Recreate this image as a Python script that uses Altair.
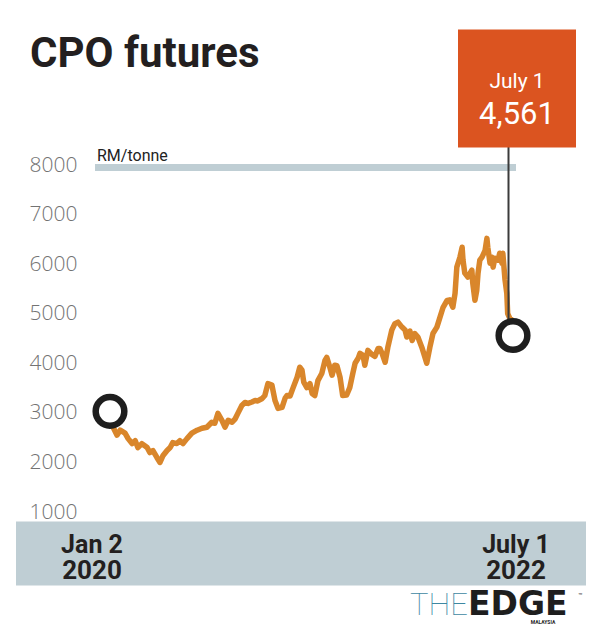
import altair as alt
import pandas as pd

# ---------------- data ----------------
start_date = "2020-01-02"
end_date = "2022-07-01"

day_offsets = [0, 7, 16, 23, 34, 41, 50, 57, 63, 72, 84, 90, 97, 106, 113, 120, 129, 136,
               142, 151, 158, 165, 174, 185, 197, 208, 219, 230, 237, 244, 253, 260, 267,
               276, 283, 289, 298, 305, 312, 321, 328, 334, 344, 350, 357, 366, 373, 380,
               389, 396, 400, 407, 414, 423, 429, 434, 438, 445, 452, 457, 463, 470, 479,
               486, 490, 497, 502, 508, 513, 520, 526, 535, 542, 549, 554, 561, 565, 572,
               576, 583, 592, 599, 606, 610, 615, 622, 628, 637, 644, 651, 660, 667, 671,
               678, 683, 689, 696, 705, 712, 716, 723, 730, 739, 746, 753, 762, 768, 775,
               780, 784, 791, 796, 798, 802, 809, 818, 820, 825, 829, 832, 836, 841, 848,
               852, 854, 859, 863, 866, 870, 877, 881, 886, 888, 893, 897, 899, 904, 908,
               911]
prices = [3030, 2710, 2550, 2650, 2590, 2480, 2380, 2440, 2300, 2380, 2300, 2200, 2240,
          2100, 2000, 2140, 2240, 2300, 2400, 2380, 2440, 2380, 2480, 2590, 2650, 2690,
          2710, 2810, 2790, 2990, 2850, 2710, 2850, 2810, 2880, 2990, 3150, 3210, 3190,
          3220, 3250, 3240, 3290, 3350, 3590, 3560, 3250, 3090, 3110, 3300, 3350, 3340,
          3510, 3720, 3920, 3860, 3620, 3510, 3590, 3390, 3350, 3650, 3800, 4060, 4120,
          3920, 3760, 3960, 3950, 3720, 3350, 3360, 3510, 3800, 4000, 4100, 4200, 4160,
          3960, 4260, 4180, 4140, 4300, 4300, 4200, 4020, 4320, 4670, 4800, 4830, 4730,
          4670, 4530, 4650, 4460, 4600, 4530, 4320, 4120, 4000, 4320, 4600, 4730, 4930,
          5130, 5270, 5280, 5130, 5410, 5940, 6140, 6340, 6080, 5820, 5740, 5880, 5620,
          5270, 5470, 5820, 6080, 6140, 6280, 6520, 6340, 6020, 6140, 5940, 6120, 6080,
          6220, 6020, 6220, 5680, 5410, 5000, 4900, 4880, 4561]

marker_dates = [start_date, end_date]
marker_values = [3030, 4561]

y_ticks = [1000, 2000, 3000, 4000, 5000, 6000, 7000, 8000]

title_text = "CPO futures"
unit_text = "RM/tonne"
callout_date = "July 1"
callout_value = "4,561"
start_label = ["Jan 2", "2020"]
end_label = ["July 1", "2022"]

# ---------------- frames ----------------
dates = pd.to_datetime(start_date) + pd.to_timedelta(day_offsets, unit="D")
df = pd.DataFrame({"date": dates.strftime("%Y-%m-%d"), "price": prices})
mk = pd.DataFrame({"date": marker_dates, "price": marker_values})
dummy = pd.DataFrame({"k": [0]})

ORANGE_LINE = "#D9862B"
ORANGE_BOX = "#DB5420"
BAND = "#BFCED4"

xscale = alt.Scale(domain=[start_date, end_date])
yscale = alt.Scale(domain=[1000, 8000], nice=False, zero=False)

X = alt.X("date:T", scale=xscale, axis=None)
Y = alt.Y("price:Q", scale=yscale,
          axis=alt.Axis(values=y_ticks, format="d", title=None, domain=False,
                        ticks=False, grid=False, labelPadding=33, labelFontSize=21,
                        labelColor="#737373", labelFont="Open Sans",
                        labelFontWeight=300))


def txt(s, x, y, size, weight="normal", color="#231f20", align="left",
        font="Roboto", **kw):
    return alt.Chart(dummy).mark_text(
        text=s, fontSize=size, fontWeight=weight, color=color, align=align,
        baseline="alphabetic", font=font, **kw
    ).encode(x=alt.value(x), y=alt.value(y))


band = alt.Chart(dummy).mark_rect(color=BAND).encode(
    x=alt.value(-94), x2=alt.value(476), y=alt.value(356.5), y2=alt.value(420.5))

top_rule = alt.Chart(dummy).mark_rule(color=BAND, strokeWidth=7).encode(
    x=alt.value(-15), x2=alt.value(406), y=alt.value(2.5))

line = alt.Chart(df).mark_line(color=ORANGE_LINE, strokeWidth=5.5,
                               strokeJoin="round", strokeCap="round").encode(x=X, y=Y)

connector = alt.Chart(dummy).mark_rule(color="#3b3b3b", strokeWidth=2).encode(
    x=alt.value(398.5), y=alt.value(-18), y2=alt.value(155))

box = alt.Chart(dummy).mark_rect(color=ORANGE_BOX).encode(
    x=alt.value(348), x2=alt.value(466), y=alt.value(-135.5), y2=alt.value(-17.5))

circles = alt.Chart(mk).mark_point(shape="circle", filled=True, fill="white",
                                   fillOpacity=1, size=820, strokeWidth=6.5,
                                   stroke="#1e1e1e", strokeOpacity=1,
                                   opacity=1).encode(
    x=alt.X("date:T", scale=xscale, axis=None),
    y=alt.Y("price:Q", scale=yscale))

layers = [
    band, top_rule, line, connector, box, circles,
    txt(title_text, -80, -98.5, 42, weight="bold"),
    txt(unit_text, -13, -4.5, 16, color="#222222"),
    txt(callout_date, 407, -77.5, 21, color="white", align="center"),
    txt(callout_value, 407, -41.5, 31, color="white", align="center"),
    txt(start_label[0], -18, 387.5, 25, weight="bold", align="center"),
    txt(start_label[1], -18, 414, 26, weight="bold", align="center"),
    txt(end_label[0], 406, 387.5, 25, weight="bold", align="center"),
    txt(end_label[1], 406, 414, 26, weight="bold", align="center"),
    txt("THE", 358, 450, 31, weight=100, color="#3E88A2", align="right"),
    txt("EDGE", 358, 450, 33, weight="bold", color="#1e1e1e", font="DejaVu Sans"),
    txt("MALAYSIA", 433, 459, 5, weight="bold", color="#1e1e1e", align="center"),
    txt("™", 468, 433, 7, color="#1e1e1e"),
]

chart = alt.layer(*layers).properties(
    width=403, height=347,
    padding={"left": 110, "top": 165, "right": 87, "bottom": 124},
    autosize=alt.AutoSizeParams(type="none"),
    background="white",
).configure_view(stroke=None)

chart.save("out.html", embed_options={"renderer": "svg", "actions": False})
